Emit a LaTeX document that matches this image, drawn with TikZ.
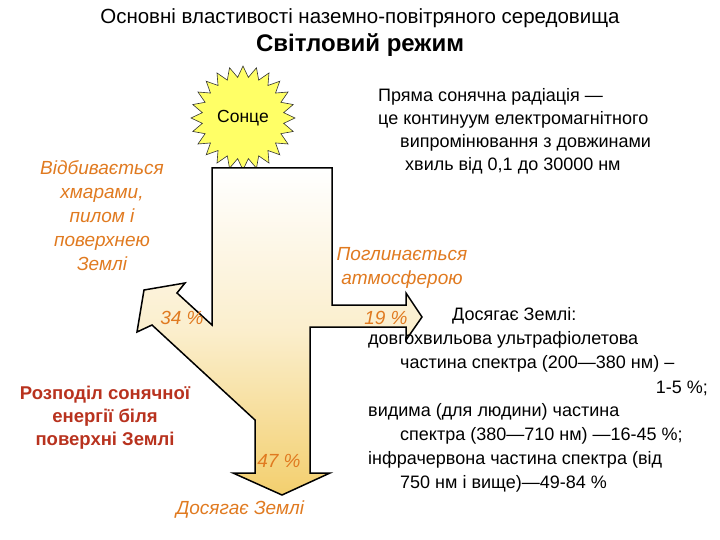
\documentclass[tikz,border=0pt]{standalone}
\usepackage{fontspec}
\setmainfont{Liberation Sans}
\definecolor{org}{HTML}{E07A20}
\definecolor{dred}{HTML}{B8321E}
\definecolor{sunf}{HTML}{FFFF66}
\definecolor{arrf}{HTML}{F3CF6E}
\begin{document}
\begin{tikzpicture}[x=1pt,y=-1pt,
  ital/.style={font=\fontsize{19}{24}\selectfont\itshape,text=org,align=center,inner sep=0pt},
  body/.style={font=\fontsize{18}{24}\selectfont,inner sep=0pt},
  redt/.style={font=\fontsize{18.5}{23}\selectfont\bfseries,text=dred,align=center}]
\useasboundingbox (0,0) rectangle (720,540);
\node (t1) at (360,18) {\fontsize{20.5}{22}\selectfont Основні властивості наземно-повітряного середовища};
\node (t2) at (360,45) {\fontsize{24}{26}\selectfont\bfseries Світловий режим};
% sun
\draw[fill=sunf,draw=black!80,line width=0.6pt]
  ([shift={(0:52)}]243,118) \foreach \i in {1,...,47}{ -- ([shift={({\i*7.5}:{mod(\i,2)==0 ? 52 : 41})}]243,118) } -- cycle;
\node (sun) at (243,118) {\fontsize{17.5}{20}\selectfont Сонце};
% arrow
\draw[line width=1.5pt,top color=white,bottom color=arrf,middle color=arrf!35]
 (212,168) -- (332,168) -- (332,305) -- (406,305) -- (406,293) -- (422,317) -- (406,340) -- (406,327)
 -- (310,327) -- (310,473) -- (330,473) -- (282,495) -- (233,473) -- (255,473) -- (255,420)
 -- (152,325) -- (137,332) -- (144,290) -- (185,283) -- (177,293) -- (212,325) -- cycle;
\node[ital] (refl) at (102,216) {Відбивається\\хмарами,\\пилом і\\поверхнею\\Землі};
\node[ital] (abs) at (402,268) {Поглинається\\атмосферою};
\node[ital] (p34) at (182,318) {34 \%};
\node[ital] (p19) at (386,318) {19 \%};
\node[ital] (p47) at (279,461) {47 \%};
\node[ital] (reach) at (240,510) {Досягає Землі};
\node[redt] (distr) at (105,418) {Розподіл сонячної\\енергії біля\\поверхні Землі};
\node[body,anchor=west] (r1) at (378,97) {Пряма сонячна радіація —};
\node[body,anchor=west] (r2) at (378,120) {це континуум електромагнітного};
\node[body,anchor=west] (r3) at (400,143) {випромінювання з довжинами};
\node[body,anchor=west] (r4) at (405,166) {хвиль від 0,1 до 30000 нм};
\node[body,anchor=west] (b1) at (452,316) {Досягає Землі:};
\node[body,anchor=west] (b2) at (368,340) {довгохвильова ультрафіолетова};
\node[body,anchor=west] (b3) at (400,364) {частина спектра (200—380 нм) –};
\node[body,anchor=east] (b4) at (708,388) {1-5 \%;};
\node[body,anchor=west] (b5) at (368,412) {видима (для людини) частина};
\node[body,anchor=west] (b6) at (400,436) {спектра (380—710 нм) —16-45 \%;};
\node[body,anchor=west] (b7) at (368,460) {інфрачервона частина спектра (від};
\node[body,anchor=west] (b8) at (400,484) {750 нм і вище)—49-84 \%};
\end{tikzpicture}
\end{document}
